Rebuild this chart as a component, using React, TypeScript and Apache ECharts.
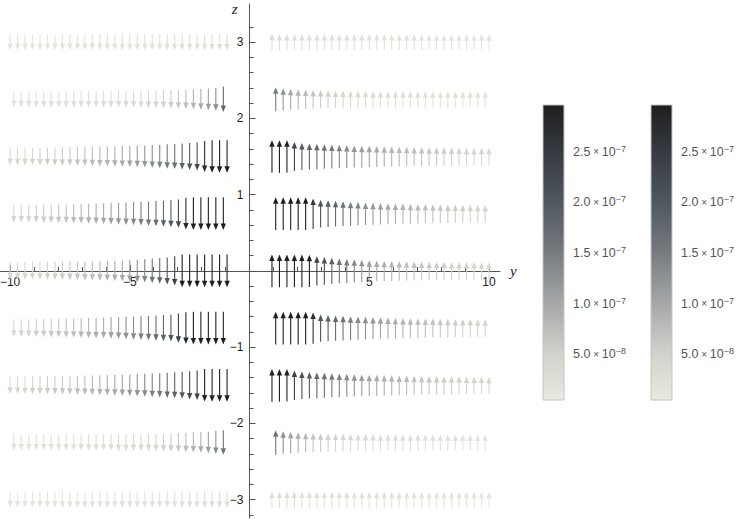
import React, { useEffect, useRef } from "react";
import * as echarts from "echarts";

// ---------- data (magnitudes in units of 1e-7) ----------
const ROW_Z = [3, 2.25, 1.5, 0.75, 0, -0.75, -1.5, -2.25, -3];
const GRID_START_EVEN = 0.9375;
const GRID_START_ODD = 1.09375;
const GRID_STEP = 0.3125;

// right half (y > 0, arrows point up), index 0 nearest y = 0
const R_Z3 = [0.26,0.25,0.25,0.24,0.23,0.23,0.22,0.21,0.21,0.2,0.2,0.19,0.19,0.18,0.18,0.17,0.17,0.16,0.16,0.16,0.15,0.15,0.15,0.14,0.14,0.14,0.13,0.13,0.13,0.12];
const R_Z225 = [1.5,1.2,1.0,0.86,0.75,0.65,0.57,0.5,0.45,0.41,0.37,0.34,0.32,0.3,0.28,0.27,0.26,0.25,0.24,0.23,0.22,0.21,0.2,0.2,0.19,0.18,0.18,0.17,0.17];
const R_Z15 = [2.95,2.95,2.9,2.3,2.0,1.85,1.72,1.6,1.5,1.4,1.3,1.2,1.12,1.05,0.98,0.92,0.86,0.8,0.75,0.7,0.66,0.62,0.58,0.55,0.52,0.49,0.46,0.43,0.41,0.39];
const R_Z075 = [2.95,2.95,2.95,2.95,2.95,2.6,2.1,1.95,1.8,1.62,1.5,1.38,1.27,1.17,1.08,1.0,0.93,0.87,0.81,0.76,0.71,0.67,0.63,0.59,0.56,0.53,0.5,0.47,0.45];
const R_Z0 = [2.95,2.95,2.95,2.95,2.95,2.9,2.4,2.1,1.85,1.65,1.5,1.35,1.2,1.08,0.98,0.9,0.83,0.77,0.72,0.67,0.63,0.59,0.56,0.53,0.5,0.48,0.46,0.44,0.42,0.4];
const R_ZM075 = [2.95,2.95,2.95,2.95,2.95,2.7,2.05,1.88,1.72,1.6,1.48,1.37,1.27,1.17,1.08,1.0,0.93,0.87,0.81,0.76,0.71,0.67,0.63,0.59,0.56,0.53,0.5,0.47,0.45];
const R_ZM15 = [2.95,2.95,2.9,2.4,2.1,1.9,1.78,1.65,1.52,1.42,1.32,1.22,1.13,1.05,0.98,0.92,0.86,0.8,0.75,0.7,0.66,0.62,0.58,0.55,0.52,0.49,0.46,0.43,0.41,0.39];
const R_ZM225 = [1.6,1.25,1.05,0.9,0.78,0.68,0.6,0.53,0.47,0.42,0.38,0.35,0.32,0.3,0.28,0.27,0.26,0.25,0.24,0.23,0.22,0.21,0.2,0.2,0.19,0.18,0.18,0.17,0.17];
const R_ZM3 = [0.26,0.25,0.25,0.24,0.23,0.23,0.22,0.21,0.21,0.2,0.2,0.19,0.19,0.18,0.18,0.17,0.17,0.16,0.16,0.16,0.15,0.15,0.15,0.14,0.14,0.14,0.13,0.13,0.13,0.12];

// left half (y < 0, arrows point down), index 0 nearest y = 0
const L_Z3 = [0.26,0.25,0.25,0.24,0.23,0.23,0.22,0.21,0.21,0.2,0.2,0.19,0.19,0.18,0.18,0.17,0.17,0.16,0.16,0.16,0.15,0.15,0.15,0.14,0.14,0.14,0.13,0.13,0.13,0.12];
const L_Z225 = [1.75,1.3,1.1,0.95,0.84,0.74,0.65,0.57,0.5,0.45,0.41,0.37,0.34,0.32,0.3,0.28,0.27,0.26,0.25,0.24,0.23,0.22,0.21,0.2,0.2,0.19,0.18,0.18,0.17];
const L_Z15 = [2.95,2.95,2.95,2.7,2.2,2.0,1.85,1.65,1.55,1.4,1.3,1.2,1.1,1.03,0.97,0.9,0.84,0.79,0.74,0.69,0.65,0.61,0.57,0.54,0.51,0.48,0.45,0.42,0.4,0.38];
const L_Z075 = [2.95,2.95,2.95,2.95,2.95,2.8,2.2,2.0,1.85,1.7,1.56,1.45,1.35,1.25,1.16,1.08,1.0,0.93,0.86,0.8,0.74,0.69,0.64,0.6,0.56,0.52,0.48,0.45,0.42];
const L_Z0 = [2.95,2.95,2.95,2.95,2.95,2.95,2.95,2.4,2.0,1.8,1.6,1.4,1.25,1.1,1.0,0.92,0.85,0.79,0.74,0.69,0.65,0.61,0.57,0.54,0.51,0.48,0.45,0.43,0.41,0.39];
const L_ZM075 = [2.95,2.95,2.95,2.95,2.95,2.8,2.4,2.0,1.85,1.7,1.56,1.45,1.35,1.25,1.16,1.08,1.0,0.93,0.86,0.8,0.74,0.69,0.64,0.6,0.56,0.52,0.48,0.45,0.42];
const L_ZM15 = [2.95,2.95,2.95,2.9,2.4,2.2,2.0,1.85,1.7,1.55,1.44,1.33,1.23,1.14,1.06,0.99,0.92,0.86,0.8,0.75,0.7,0.66,0.62,0.58,0.54,0.51,0.48,0.45,0.42,0.4];
const L_ZM225 = [1.6,1.3,1.1,0.95,0.84,0.74,0.65,0.57,0.5,0.45,0.41,0.37,0.34,0.32,0.3,0.28,0.27,0.26,0.25,0.24,0.23,0.22,0.21,0.2,0.2,0.19,0.18,0.18,0.17];
const L_ZM3 = [0.26,0.25,0.25,0.24,0.23,0.23,0.22,0.21,0.21,0.2,0.2,0.19,0.19,0.18,0.18,0.17,0.17,0.16,0.16,0.16,0.15,0.15,0.15,0.14,0.14,0.14,0.13,0.13,0.13,0.12];

const RIGHT_ROWS = [R_Z3, R_Z225, R_Z15, R_Z075, R_Z0, R_ZM075, R_ZM15, R_ZM225, R_ZM3];
const LEFT_ROWS = [L_Z3, L_Z225, L_Z15, L_Z075, L_Z0, L_ZM075, L_ZM15, L_ZM225, L_ZM3];

// axes
const X_MIN = -10.42, X_MAX = 10.46;
const Y_MIN = -3.24, Y_MAX = 3.5;
const X_MAJOR = [-10, -5, 5, 10];
const X_MINOR = [-9, -8, -7, -6, -4, -3, -2, -1, 1, 2, 3, 4, 6, 7, 8, 9];
const Y_MAJOR = [-3, -2, -1, 1, 2, 3];
const Y_MINOR = [-3.2, -2.8, -2.6, -2.4, -2.2, -1.8, -1.6, -1.4, -1.2, -0.8, -0.6, -0.4, -0.2, 0.2, 0.4, 0.6, 0.8, 1.2, 1.4, 1.6, 1.8, 2.2, 2.4, 2.6, 2.8, 3.2];

// colour bar (units of 1e-7)
const CB_MIN = 0.045, CB_MAX = 2.965;
const CB_LABELS = [0.5, 1.0, 1.5, 2.0, 2.5];
const CB_MINOR_STEP = 0.1;

// GrayTones-like colour stops
const STOPS: [number, string][] = [
  [0, "#e9e9e2"],
  [0.156, "#d2d2cc"],
  [0.327, "#a6a8a7"],
  [0.498, "#767c80"],
  [0.67, "#50575e"],
  [0.84, "#363b41"],
  [1, "#1e1e1e"],
];

function hex(c: string) {
  return [parseInt(c.slice(1, 3), 16), parseInt(c.slice(3, 5), 16), parseInt(c.slice(5, 7), 16)];
}
function colorFor(m: number) {
  let t = (m - CB_MIN) / (CB_MAX - CB_MIN);
  t = Math.max(0, Math.min(1, t));
  for (let i = 1; i < STOPS.length; i++) {
    if (t <= STOPS[i][0]) {
      const [t0, c0] = STOPS[i - 1];
      const [t1, c1] = STOPS[i];
      const f = (t - t0) / (t1 - t0);
      const a = hex(c0), b = hex(c1);
      const r = a.map((v, j) => Math.round(v + (b[j] - v) * f));
      return `rgb(${r[0]},${r[1]},${r[2]})`;
    }
  }
  return STOPS[STOPS.length - 1][1];
}

const FONT = "Liberation Sans, Arial, sans-serif";
const AXIS_COLOR = "#555";

// main plot area layout
const G_LEFT = 0, G_TOP = 4, G_W = 500, G_H = 514;
// distances of the zero lines from the grid edges (derived from the scales)
const ZERO_FROM_BOTTOM = (G_H * (0 - Y_MIN)) / (Y_MAX - Y_MIN);
const ZERO_FROM_TOP = G_H - ZERO_FROM_BOTTOM;
const ZERO_FROM_LEFT = (G_W * (0 - X_MIN)) / (X_MAX - X_MIN);
const ZERO_FROM_RIGHT = G_W - ZERO_FROM_LEFT;

function minusFmt(v: number) {
  return String(v).replace("-", "\u2212");
}

function cbFmt(v: number) {
  const val = v * 1e-7;
  const e = Math.floor(Math.log10(val) + 1e-9);
  const mant = val / Math.pow(10, e);
  return `{m|${mant.toFixed(1)}}{x| \u00d7 }{m|10}{e|\u2212${Math.abs(e)}}`;
}

export default function App() {
  const ref = useRef<HTMLDivElement>(null);
  useEffect(() => {
    document.body.style.margin = "0";
    if (!ref.current) return;
    const chart = echarts.init(ref.current, undefined, { renderer: "svg" });

    const arrows: number[][] = [];
    ROW_Z.forEach((z, r) => {
      const start = r % 2 === 0 ? GRID_START_EVEN : GRID_START_ODD;
      RIGHT_ROWS[r].forEach((m, k) => arrows.push([start + k * GRID_STEP, z, m, 1]));
      LEFT_ROWS[r].forEach((m, k) => arrows.push([-(start + k * GRID_STEP), z, m, -1]));
    });

    const cbMinor: number[] = [];
    for (let v = CB_MINOR_STEP; v < CB_MAX; v += CB_MINOR_STEP) cbMinor.push(Math.round(v * 10) / 10);

    const gradient = () =>
      new echarts.graphic.LinearGradient(
        0, 1, 0, 0,
        STOPS.map(([t, c]) => ({ offset: t, color: c }))
      );

    const cbGrids = [543, 651];

    const option: any = {
      animation: false,
      grid: [
        { left: G_LEFT, width: G_W, top: G_TOP, height: G_H, containLabel: false, outerBoundsMode: "none" },
        ...cbGrids.map((l) => ({ left: l, width: 21, top: 105, height: 295, containLabel: false, outerBoundsMode: "none" })),
      ],
      xAxis: [
        {
          type: "value", gridIndex: 0, min: X_MIN, max: X_MAX, position: "bottom", offset: -ZERO_FROM_BOTTOM,
          axisLine: { onZero: false, lineStyle: { color: AXIS_COLOR, width: 1 } },
          axisTick: { inside: true, length: 6, customValues: X_MAJOR, lineStyle: { color: AXIS_COLOR } },
          axisLabel: { customValues: X_MAJOR, formatter: minusFmt, margin: 5, color: "#222", fontSize: 12, fontFamily: FONT },
          splitLine: { show: false },
          name: "y", nameLocation: "end", nameGap: 10,
          nameTextStyle: { fontFamily: "Liberation Serif, serif", fontStyle: "italic", fontSize: 15, color: "#222", verticalAlign: "middle" },
        },
        {
          type: "value", gridIndex: 0, min: X_MIN, max: X_MAX, position: "top", offset: -ZERO_FROM_TOP,
          axisLine: { show: false, onZero: false },
          axisTick: { length: 4, customValues: X_MINOR, lineStyle: { color: AXIS_COLOR } },
          axisLabel: { show: false },
          splitLine: { show: false },
        },
        ...cbGrids.map((_, i) => ({
          type: "value", gridIndex: i + 1, min: 0, max: 1, show: false,
        })),
      ],
      yAxis: [
        {
          type: "value", gridIndex: 0, min: Y_MIN, max: Y_MAX, position: "left", offset: -ZERO_FROM_LEFT,
          axisLine: { onZero: false, lineStyle: { color: AXIS_COLOR, width: 1 } },
          axisTick: { inside: true, length: 6, customValues: Y_MAJOR, lineStyle: { color: AXIS_COLOR } },
          axisLabel: { customValues: Y_MAJOR, formatter: minusFmt, margin: 6, color: "#222", fontSize: 12, fontFamily: FONT },
          splitLine: { show: false },
          name: "z", nameLocation: "end", nameGap: -5,
          nameTextStyle: { fontFamily: "Liberation Serif, serif", fontStyle: "italic", fontSize: 15, color: "#222", align: "right", verticalAlign: "middle", padding: [0, 12, 0, 0] },
        },
        {
          type: "value", gridIndex: 0, min: Y_MIN, max: Y_MAX, position: "right", offset: -ZERO_FROM_RIGHT,
          axisLine: { show: false, onZero: false },
          axisTick: { length: 4, customValues: Y_MINOR, lineStyle: { color: AXIS_COLOR } },
          axisLabel: { show: false },
          splitLine: { show: false },
        },
        ...cbGrids.map((_, i) => ({
          type: "value", gridIndex: i + 1, min: CB_MIN, max: CB_MAX, position: "right",
          axisLine: { show: false },
          axisTick: { show: true, length: 3, customValues: cbMinor, lineStyle: { color: "#bbb" } },
          axisLabel: {
            customValues: CB_LABELS, formatter: cbFmt, margin: 9,
            rich: {
              m: { fontSize: 12.5, color: "#555", fontFamily: FONT },
              x: { fontSize: 10, color: "#555", fontFamily: FONT },
              e: { fontSize: 9, color: "#555", fontFamily: FONT, verticalAlign: "top", padding: [0, 0, 6, 0] },
            },
          },
          splitLine: { show: false },
        })),
      ],
      series: [
        {
          type: "custom",
          xAxisIndex: 0, yAxisIndex: 0,
          clip: false,
          data: arrows,
          renderItem: (params: any, api: any) => {
            const y = api.value(0), z = api.value(1), m = api.value(2), d = api.value(3);
            const [cx, cy] = api.coord([y, z]);
            const len = 15 + 6 * m;
            const tipY = cy - (d * len) / 2;
            const tailY = cy + (d * len) / 2;
            const headLen = 6.5;
            const headW = 2.7;
            const baseY = tipY + d * headLen;
            const color = colorFor(m);
            return {
              type: "group",
              children: [
                { type: "line", shape: { x1: cx, y1: tailY, x2: cx, y2: baseY - d * 0.5 }, style: { stroke: color, lineWidth: 1.1 } },
                { type: "polygon", shape: { points: [[cx, tipY], [cx - headW, baseY], [cx + headW, baseY]] }, style: { fill: color, stroke: null } },
              ],
            };
          },
        },
        ...cbGrids.map((_, i) => ({
          type: "custom",
          xAxisIndex: i + 2, yAxisIndex: i + 2,
          clip: false,
          data: [[0, CB_MIN, 1, CB_MAX]],
          renderItem: (params: any, api: any) => {
            const p0 = api.coord([api.value(0), api.value(3)]);
            const p1 = api.coord([api.value(2), api.value(1)]);
            return {
              type: "rect",
              shape: { x: p0[0], y: p0[1], width: p1[0] - p0[0], height: p1[1] - p0[1] },
              style: { fill: gradient(), stroke: "#c4c4c4", lineWidth: 1 },
            };
          },
        })),
      ],
    };
    chart.setOption(option);
    return () => chart.dispose();
  }, []);
  return <div ref={ref} style={{ width: 747, height: 524 }} />;
}
